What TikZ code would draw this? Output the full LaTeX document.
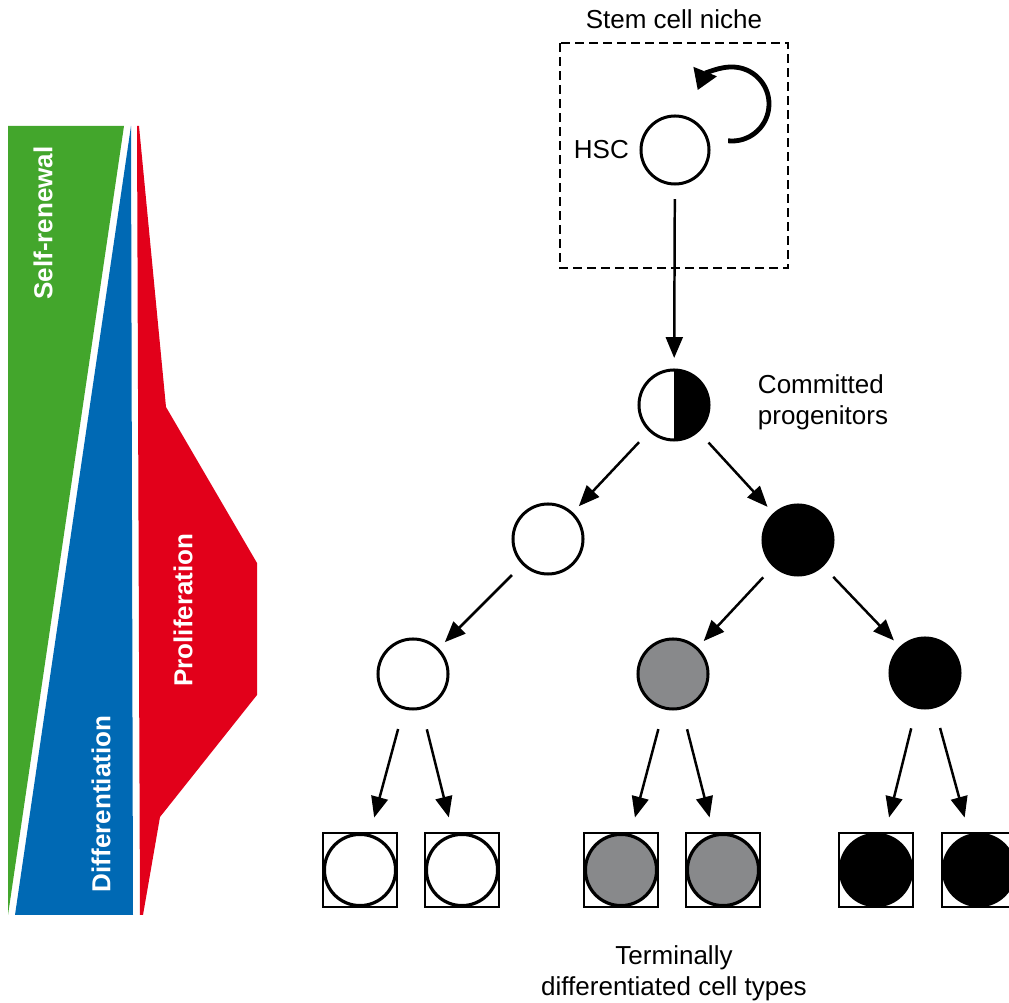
\documentclass[tikz,border=0pt]{standalone}
\usepackage{fontspec}
\setmainfont{Liberation Sans}
\usepackage{xcolor}
\usetikzlibrary{
  arrows.meta,
  positioning
}
\definecolor{RenewGreen}{RGB}{67, 166, 44}
\definecolor{DiffBlue}{RGB}{0, 105, 180}
\definecolor{ProlifRed}{RGB}{226, 0, 26}
\definecolor{CellGray}{RGB}{136, 137, 139}
\tikzset{
  cell/.style={circle, draw=black, line width=0.075cm, minimum size=1.75cm, inner sep=0pt, outer sep=0pt},
  termbox/.style={rectangle, draw=black, line width=0.06cm, minimum size=1.85cm, inner sep=0pt, outer sep=0pt},
  termcell/.style={circle, draw=black, line width=0.08cm, minimum size=1.78cm, inner sep=0pt, outer sep=0pt},
  arr/.style={-{Triangle[length=0.52cm, width=0.42cm]}, line width=0.062cm},
  treearr/.style={arr, shorten <=0.4cm, shorten >=0.25cm},
  termarr/.style={arr, shorten <=0.55cm, shorten >=0.4cm},
  lbl/.style={font=\fontsize{18.5}{22}\selectfont},
  barlbl/.style={font=\fontsize{18.5}{22}\selectfont\bfseries, text=white, rotate=90}
}

\begin{document}
\begin{tikzpicture}[x=0.025cm, y=-0.025cm]
  \useasboundingbox (0,0) rectangle (1009,1003);

  % left: the three wedges
  \fill[RenewGreen] (8,126) -- (124,126) -- (8,915) -- cycle;
  \fill[DiffBlue] (131,126) -- (133,915) -- (15,915) -- cycle;
  \fill[ProlifRed] (137,126) -- (139,126) -- (166,407) -- (257,563) -- (257,695)
    -- (160,817) -- (143,915) -- (140,915) -- cycle;
  \node[barlbl] (selfren) at (43,223) {Self-renewal};
  \node[barlbl] (diff) at (101,804) {Differentiation};
  \node[barlbl] (prolif) at (183,610) {Proliferation};

  % niche
  \node[lbl] (nichelbl) at (674,19) {Stem cell niche};
  \draw[line width=0.065cm, dash pattern=on 0.22cm off 0.13cm] (560,43) rectangle (788,268);
  \node[cell, minimum size=1.7cm] (hsc) at (675,150) {};
  \node[lbl, left=0.18cm of hsc] (hsclbl) {HSC};
  \coordinate (loopc) at (732,104);
  \draw[line width=0.12cm, -{Triangle[length=0.5cm, width=0.6cm]}]
    ([shift={(-96:0.925cm)}]loopc) arc[start angle=-96, end angle=158, radius=0.925cm];

  % tree
  \node[cell, path picture={\fill[black] (path picture bounding box.north) rectangle (path picture bounding box.south east);}] (prog) at (674,405) {};
  \node[lbl, align=left, anchor=west] (proglbl) at (753,402) {Committed\\progenitors};
  \node[cell] (wl2) at (548,539) {};
  \node[cell, fill=black] (bl2) at (798,540) {};
  \node[cell] (wl3) at (413,674) {};
  \node[cell, fill=CellGray] (gl3) at (673,674) {};
  \node[cell, fill=black] (bl3) at (925,673) {};

  \draw[arr, shorten <=0.375cm, shorten >=0.3cm] (hsc) -- (prog);
  \draw[treearr] (prog) -- (wl2);
  \draw[treearr] (prog) -- (bl2);
  \draw[treearr] (wl2) -- (wl3);
  \draw[treearr] (bl2) -- (gl3);
  \draw[treearr] (bl2) -- (bl3);

  % terminal cells
  \foreach \name/\xpos/\col in {sq1/360/white, sq2/462/white, sq3/621/CellGray, sq4/723/CellGray, sq5/876/black, sq6/979/black}{
    \node[termbox] (\name) at (\xpos,870) {};
    \node[termcell, fill=\col] at (\xpos,870) {};
  }
  \draw[termarr] (wl3) -- (sq1);
  \draw[termarr] (wl3) -- (sq2);
  \draw[termarr] (gl3) -- (sq3);
  \draw[termarr] (gl3) -- (sq4);
  \draw[termarr] (bl3) -- (sq5);
  \draw[termarr] (bl3) -- (sq6);

  \node[lbl, align=center] (termlbl) at (674,973) {Terminally\\differentiated cell types};
\end{tikzpicture}
\end{document}
